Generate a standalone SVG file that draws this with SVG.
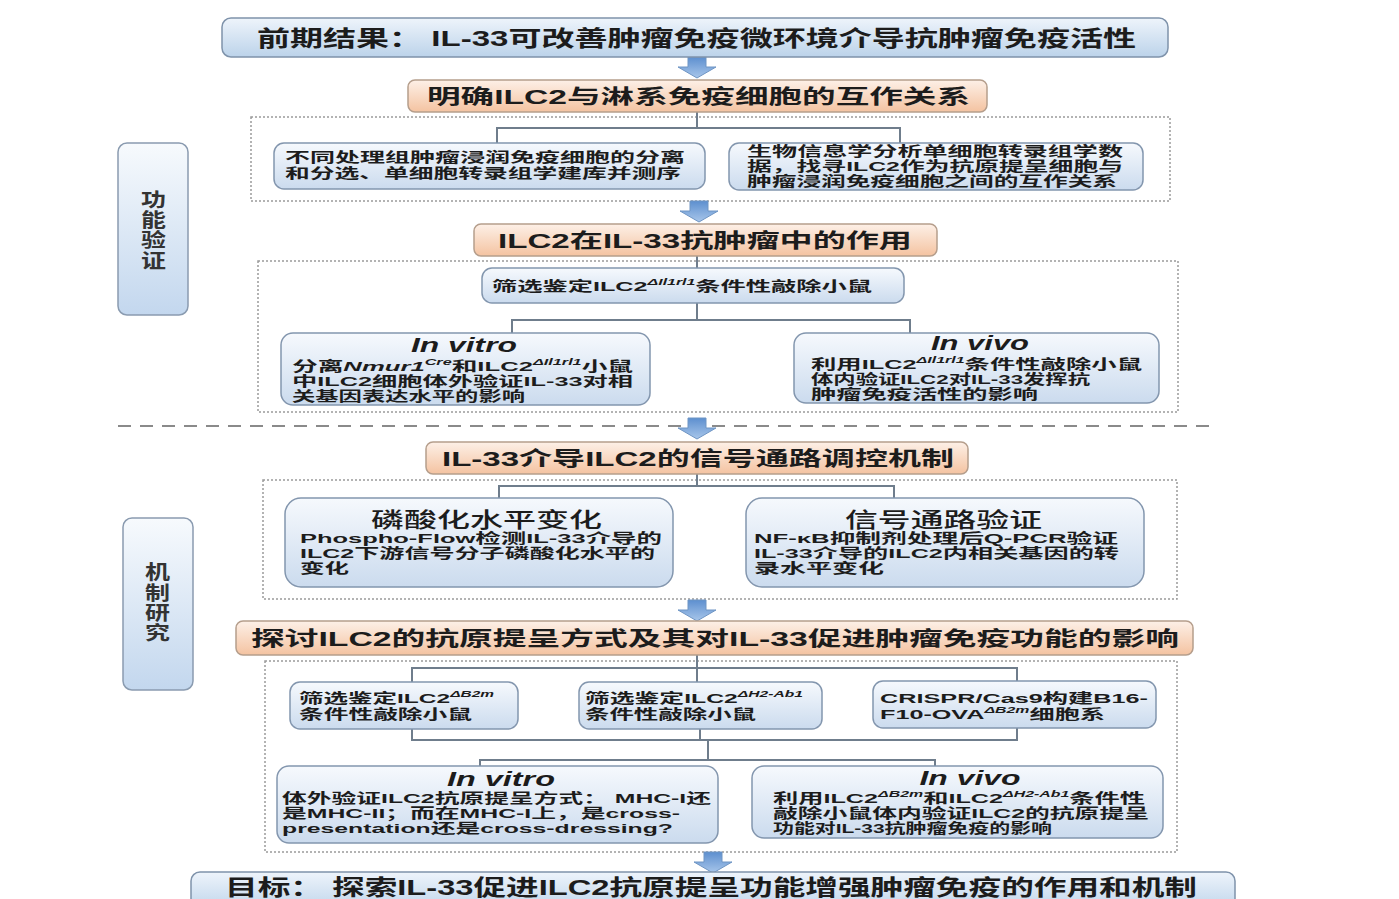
<svg xmlns="http://www.w3.org/2000/svg" width="1399" height="899" viewBox="0 0 1399 899">
<defs>
<linearGradient id="gTitle" x1="0" y1="0" x2="0" y2="1"><stop offset="0" stop-color="#eef4fb"/><stop offset="1" stop-color="#bcd3ea"/></linearGradient>
<linearGradient id="gBlue" x1="0" y1="0" x2="0" y2="1"><stop offset="0" stop-color="#f6f9fd"/><stop offset="1" stop-color="#cbdbee"/></linearGradient>
<linearGradient id="gOr" x1="0" y1="0" x2="0" y2="1"><stop offset="0" stop-color="#fdf0e7"/><stop offset="1" stop-color="#f4c3a1"/></linearGradient>
<linearGradient id="gSide" x1="0" y1="0" x2="0" y2="1"><stop offset="0" stop-color="#f7fafd"/><stop offset="1" stop-color="#c3d7ee"/></linearGradient>
<linearGradient id="gArr" x1="0" y1="0" x2="0" y2="1"><stop offset="0" stop-color="#5d8fcf"/><stop offset="1" stop-color="#a8c6ea"/></linearGradient>
<path id="arrow" d="M-9,0 H9 V10 H19 L0,21 L-19,10 H-9 Z" fill="url(#gArr)" stroke="#6f95c4" stroke-width="1"/>
<style>
.title{fill:url(#gTitle);stroke:#7f93ab;stroke-width:1.5}
.bx{fill:url(#gBlue);stroke:#8396ae;stroke-width:1.5}
.or{fill:url(#gOr);stroke:#b59e8c;stroke-width:1.5}
.side{fill:url(#gSide);stroke:#8a9bb0;stroke-width:1.5}
.dash{fill:none;stroke:#9a9a9a;stroke-width:1.5;stroke-dasharray:2 2}
.sect{fill:none;stroke:#8a8a8a;stroke-width:2;stroke-dasharray:13 9}
.conn{fill:none;stroke:#6f7d8c;stroke-width:2}
text{font-family:"Liberation Sans","Noto Sans CJK SC",sans-serif;fill:#1c1c1c;font-weight:bold}
.h1{font-size:22px}
.h2{font-size:20px}
.b{font-size:13.5px}
.hd{font-size:20px;font-style:italic;text-anchor:middle}
.st{font-size:21px;font-weight:500}
.sd{font-size:19px;fill:#333}
.sup{font-size:8.5px;font-style:italic}
.i{font-style:italic}
</style>
</defs>

<line class="sect" x1="118" y1="426" x2="1212" y2="426"/>

<g id="frames">
<rect class="dash" x="251" y="117" width="919" height="84"/>
<rect class="dash" x="258" y="261" width="920" height="151"/>
<rect class="dash" x="263" y="480" width="914" height="119"/>
<rect class="dash" x="265" y="661" width="912" height="191"/>
</g>

<g id="connectors">
<path class="conn" d="M697,112 V128 M497,143 V128 H900 V143"/>
<path class="conn" d="M697,256 V268"/>
<path class="conn" d="M697,303 V320 M512,333 V320 H910 V333"/>
<path class="conn" d="M697,474 V486 M499,498 V486 H894 V498"/>
<path class="conn" d="M697,655 V668 M412,682 V668 H1017 V681 M697,668 V682"/>
<path class="conn" d="M412,729 V740 H1017 V728 M700,729 V740 M708,740 V760 M480,766 V760 H935 V766"/>
<use href="#arrow" x="697" y="57"/>
<use href="#arrow" x="699" y="201"/>
<use href="#arrow" x="697" y="418"/>
<use href="#arrow" x="697" y="600"/>
<use href="#arrow" x="713" y="852"/>
</g>

<g id="n-prior">
<rect class="title" x="222" y="18" width="946" height="39" rx="9"/>
<text class="h1" x="257" y="46" textLength="879" lengthAdjust="spacingAndGlyphs">前期结果： IL-33可改善肿瘤免疫微环境介导抗肿瘤免疫活性</text>
</g>

<g id="n-side1">
<rect class="side" x="118" y="143" width="70" height="172" rx="9"/>
<text class="sd" x="141" y="207" textLength="25" lengthAdjust="spacingAndGlyphs">功</text>
<text class="sd" x="141" y="227" textLength="25" lengthAdjust="spacingAndGlyphs">能</text>
<text class="sd" x="141" y="247" textLength="25" lengthAdjust="spacingAndGlyphs">验</text>
<text class="sd" x="141" y="268" textLength="25" lengthAdjust="spacingAndGlyphs">证</text>
</g>

<g id="n-side2">
<rect class="side" x="123" y="518" width="70" height="172" rx="9"/>
<text class="sd" x="145" y="579" textLength="25" lengthAdjust="spacingAndGlyphs">机</text>
<text class="sd" x="145" y="600" textLength="25" lengthAdjust="spacingAndGlyphs">制</text>
<text class="sd" x="145" y="620" textLength="25" lengthAdjust="spacingAndGlyphs">研</text>
<text class="sd" x="145" y="640" textLength="25" lengthAdjust="spacingAndGlyphs">究</text>
</g>

<g id="n-step1">
<rect class="or" x="408" y="80" width="579" height="32" rx="7"/>
<text class="h2" x="427" y="104" textLength="543" lengthAdjust="spacingAndGlyphs">明确ILC2与淋系免疫细胞的互作关系</text>
</g>

<g id="n-sort">
<rect class="bx" x="274" y="143" width="431" height="46" rx="10"/>
<text class="b" x="285" y="162" textLength="400" lengthAdjust="spacingAndGlyphs">不同处理组肿瘤浸润免疫细胞的分离</text>
<text class="b" x="285" y="178" textLength="396" lengthAdjust="spacingAndGlyphs">和分选、单细胞转录组学建库并测序</text>
</g>

<g id="n-bioinfo">
<rect class="bx" x="729" y="143" width="414" height="47" rx="10"/>
<text class="b" x="747" y="156" textLength="376" lengthAdjust="spacingAndGlyphs">生物信息学分析单细胞转录组学数</text>
<text class="b" x="747" y="171" textLength="376" lengthAdjust="spacingAndGlyphs">据，找寻ILC2作为抗原提呈细胞与</text>
<text class="b" x="747" y="186" textLength="370" lengthAdjust="spacingAndGlyphs">肿瘤浸润免疫细胞之间的互作关系</text>
</g>

<g id="n-step2">
<rect class="or" x="474" y="224" width="463" height="32" rx="7"/>
<text class="h2" x="498" y="248" textLength="414" lengthAdjust="spacingAndGlyphs">ILC2在IL-33抗肿瘤中的作用</text>
</g>

<g id="n-ko1">
<rect class="bx" x="482" y="268" width="422" height="35" rx="10"/>
<text class="b" x="492" y="291" textLength="380" lengthAdjust="spacingAndGlyphs">筛选鉴定ILC2<tspan class="sup" dy="-6">ΔIl1rl1</tspan><tspan dy="6">条件性敲除小鼠</tspan></text>
</g>

<g id="n-vitro1">
<rect class="bx" x="281" y="333" width="369" height="72" rx="12"/>
<text class="hd" x="464" y="352" textLength="106" lengthAdjust="spacingAndGlyphs">In vitro</text>
<text class="b" x="292" y="371" textLength="341" lengthAdjust="spacingAndGlyphs">分离<tspan class="i">Nmur1</tspan><tspan class="sup" dy="-6">Cre</tspan><tspan dy="6">和ILC2</tspan><tspan class="sup" dy="-6">ΔIl1rl1</tspan><tspan dy="6">小鼠</tspan></text>
<text class="b" x="292" y="386" textLength="341" lengthAdjust="spacingAndGlyphs">中ILC2细胞体外验证IL-33对相</text>
<text class="b" x="292" y="401" textLength="233" lengthAdjust="spacingAndGlyphs">关基因表达水平的影响</text>
</g>

<g id="n-vivo1">
<rect class="bx" x="794" y="333" width="365" height="70" rx="12"/>
<text class="hd" x="980" y="350" textLength="98" lengthAdjust="spacingAndGlyphs">In vivo</text>
<text class="b" x="811" y="369" textLength="331" lengthAdjust="spacingAndGlyphs">利用ILC2<tspan class="sup" dy="-6">ΔIl1rl1</tspan><tspan dy="6">条件性敲除小鼠</tspan></text>
<text class="b" x="811" y="384" textLength="279" lengthAdjust="spacingAndGlyphs">体内验证ILC2对IL-33发挥抗</text>
<text class="b" x="811" y="399" textLength="227" lengthAdjust="spacingAndGlyphs">肿瘤免疫活性的影响</text>
</g>

<g id="n-step3">
<rect class="or" x="426" y="442" width="542" height="32" rx="7"/>
<text class="h2" x="442" y="466" textLength="512" lengthAdjust="spacingAndGlyphs">IL-33介导ILC2的信号通路调控机制</text>
</g>

<g id="n-phospho">
<rect class="bx" x="285" y="498" width="388" height="89" rx="16"/>
<text class="st" x="371" y="527" textLength="231" lengthAdjust="spacingAndGlyphs">磷酸化水平变化</text>
<text class="b" x="300" y="543" textLength="362" lengthAdjust="spacingAndGlyphs">Phospho-Flow检测IL-33介导的</text>
<text class="b" x="300" y="558" textLength="355" lengthAdjust="spacingAndGlyphs">ILC2下游信号分子磷酸化水平的</text>
<text class="b" x="300" y="573" textLength="49" lengthAdjust="spacingAndGlyphs">变化</text>
</g>

<g id="n-pathway">
<rect class="bx" x="746" y="498" width="398" height="89" rx="16"/>
<text class="st" x="845" y="527" textLength="197" lengthAdjust="spacingAndGlyphs">信号通路验证</text>
<text class="b" x="754" y="543" textLength="364" lengthAdjust="spacingAndGlyphs">NF-κB抑制剂处理后Q-PCR验证</text>
<text class="b" x="754" y="558" textLength="365" lengthAdjust="spacingAndGlyphs">IL-33介导的ILC2内相关基因的转</text>
<text class="b" x="754" y="573" textLength="130" lengthAdjust="spacingAndGlyphs">录水平变化</text>
</g>

<g id="n-step4">
<rect class="or" x="236" y="621" width="957" height="34" rx="7"/>
<text class="h2" x="251" y="646" textLength="928" lengthAdjust="spacingAndGlyphs">探讨ILC2的抗原提呈方式及其对IL-33促进肿瘤免疫功能的影响</text>
</g>

<g id="n-b2m">
<rect class="bx" x="290" y="682" width="228" height="47" rx="10"/>
<text class="b" x="299" y="703" textLength="195" lengthAdjust="spacingAndGlyphs">筛选鉴定ILC2<tspan class="sup" dy="-6">ΔB2m</tspan></text>
<text class="b" x="299" y="719" textLength="173" lengthAdjust="spacingAndGlyphs">条件性敲除小鼠</text>
</g>

<g id="n-h2ab1">
<rect class="bx" x="579" y="682" width="243" height="47" rx="10"/>
<text class="b" x="585" y="703" textLength="218" lengthAdjust="spacingAndGlyphs">筛选鉴定ILC2<tspan class="sup" dy="-6">ΔH2-Ab1</tspan></text>
<text class="b" x="585" y="719" textLength="171" lengthAdjust="spacingAndGlyphs">条件性敲除小鼠</text>
</g>

<g id="n-crispr">
<rect class="bx" x="873" y="681" width="283" height="47" rx="10"/>
<text class="b" x="880" y="703" textLength="268" lengthAdjust="spacingAndGlyphs">CRISPR/Cas9构建B16-</text>
<text class="b" x="880" y="719" textLength="225" lengthAdjust="spacingAndGlyphs">F10-OVA<tspan class="sup" dy="-6">ΔB2m</tspan><tspan dy="6">细胞系</tspan></text>
</g>

<g id="n-vitro2">
<rect class="bx" x="277" y="766" width="441" height="77" rx="12"/>
<text class="hd" x="501" y="786" textLength="108" lengthAdjust="spacingAndGlyphs">In vitro</text>
<text class="b" x="282" y="803" textLength="429" lengthAdjust="spacingAndGlyphs">体外验证ILC2抗原提呈方式： MHC-I还</text>
<text class="b" x="282" y="818" textLength="398" lengthAdjust="spacingAndGlyphs">是MHC-II；而在MHC-I上，是cross-</text>
<text class="b" x="282" y="833" textLength="391" lengthAdjust="spacingAndGlyphs">presentation还是cross-dressing?</text>
</g>

<g id="n-vivo2">
<rect class="bx" x="752" y="766" width="411" height="72" rx="12"/>
<text class="hd" x="970" y="785" textLength="101" lengthAdjust="spacingAndGlyphs">In vivo</text>
<text class="b" x="773" y="803" textLength="372" lengthAdjust="spacingAndGlyphs">利用ILC2<tspan class="sup" dy="-6">ΔB2m</tspan><tspan dy="6">和ILC2</tspan><tspan class="sup" dy="-6">ΔH2-Ab1</tspan><tspan dy="6">条件性</tspan></text>
<text class="b" x="773" y="818" textLength="376" lengthAdjust="spacingAndGlyphs">敲除小鼠体内验证ILC2的抗原提呈</text>
<text class="b" x="773" y="833" textLength="279" lengthAdjust="spacingAndGlyphs">功能对IL-33抗肿瘤免疫的影响</text>
</g>

<g id="n-goal">
<rect class="title" x="191" y="872" width="1044" height="40" rx="9"/>
<text class="h1" x="225" y="895" textLength="972" lengthAdjust="spacingAndGlyphs">目标： 探索IL-33促进ILC2抗原提呈功能增强肿瘤免疫的作用和机制</text>
</g>
</svg>
